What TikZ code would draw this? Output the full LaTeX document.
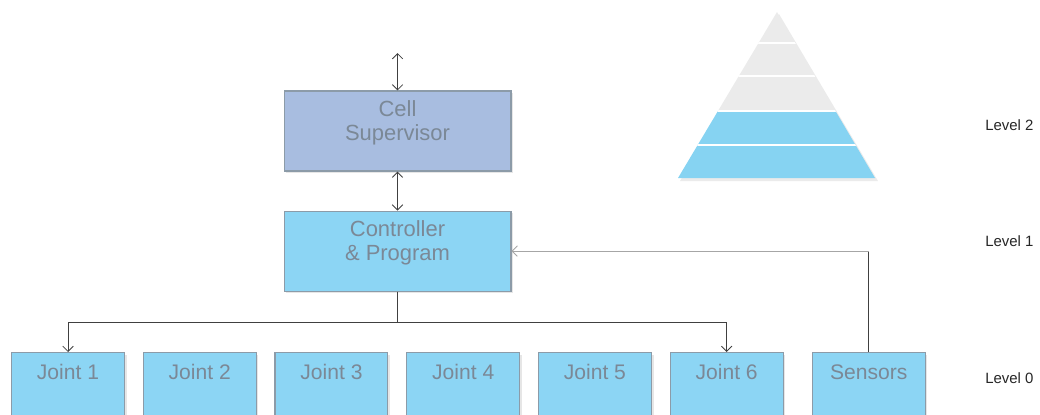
\documentclass[tikz,border=0pt]{standalone}
\usepackage{fontspec}
\setmainfont{Liberation Sans}
\usetikzlibrary{arrows.meta,positioning,shadows}
\definecolor{boxblue}{HTML}{8CD5F4}
\definecolor{supblue}{HTML}{A8BDE0}
\definecolor{boxline}{HTML}{8C9BA8}
\definecolor{boxtext}{HTML}{7B8896}
\definecolor{pyrgray}{HTML}{EBEBEB}
\definecolor{pyrblue}{HTML}{86D3F2}
\newcommand{\lowstrut}{\rule[-0.42cm]{0pt}{0pt}}
\begin{document}
\begin{tikzpicture}[x=0.02cm,y=-0.02cm,>={Straight Barb[length=3pt,width=6pt]},
	box/.style={draw=boxline,line width=0.6pt,fill=boxblue,text=boxtext,
		minimum width=4.54cm,minimum height=1.6cm,align=center,
		font=\fontsize{12.5}{13.6}\selectfont,
		drop shadow={opacity=0.2,shadow xshift=1.2pt,shadow yshift=-1.2pt}},
	joint/.style={box,minimum width=2.26cm,minimum height=0pt,inner ysep=0pt,
		text height=0.54cm,text depth=0.86cm,font=\fontsize{12}{14}\selectfont},
	link/.style={draw=black!75,line width=0.5pt},
	fback/.style={draw=black!35,line width=0.5pt},
	lvl/.style={anchor=west,inner sep=0pt,text=black!85,font=\fontsize{8.5}{10}\selectfont}]
	\useasboundingbox (0,0) rectangle (1040,414);
	\clip (0,0) rectangle (1040,414);
	% level 2 and 1
	\node[box,fill=supblue] (sup) at (397.5,131) {Cell\\Supervisor\lowstrut};
	\node[box,below=0.78cm of sup] (ctrl) {Controller\\\& Program\lowstrut};
	\coordinate (top) at (397.5,53);
	\draw[link,<->] (top) -- (sup.north);
	\draw[link,<->] (sup.south) -- (ctrl.north);
	% level 0
	\node[joint,anchor=north west] (j1) at (11,352) {Joint 1};
	\foreach \i [count=\p from 1] in {2,...,6}
		\node[joint,right=0.354cm of j\p] (j\i) {Joint \i};
	\node[joint,right=0.56cm of j6] (sens) {Sensors};
	\draw[link,->] (ctrl.south) -- ++(0,31) -| (j1.north);
	\draw[link,->] (ctrl.south) -- ++(0,31) -| (j6.north);
	\draw[link] (sens.north) -- (sens.north |- ctrl.east) coordinate (fb);
	\draw[fback,->] (fb) -- (ctrl.east);
	% pyramid
	\fill[black!8] (779,14) -- (878,181) -- (680,181) -- cycle;
	\begin{scope}
		\clip (777,12) -- (875,178) -- (678,178) -- cycle;
		\fill[pyrgray] (670,0) rectangle (885,111);
		\fill[pyrblue] (670,111) rectangle (885,180);
		\foreach \y in {43,76,111,145}
			\draw[white,line width=1.3pt] (670,\y) -- (885,\y);
	\end{scope}
	\node[lvl] (l2) at (985,125) {Level 2};
	\node[lvl] (l1) at (985,241) {Level 1};
	\node[lvl] (l0) at (985,378) {Level 0};
\end{tikzpicture}
\end{document}
